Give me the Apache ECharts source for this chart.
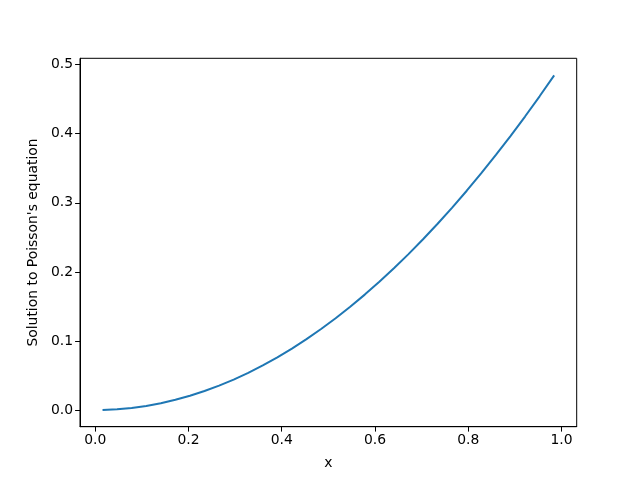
<!DOCTYPE html>
<html>
<head>
<meta charset="utf-8">
<script src="https://cdn.jsdelivr.net/npm/echarts@6/dist/echarts.min.js"></script>
<style>html,body{margin:0;padding:0;background:#fff;}#c{width:640px;height:480px;}</style>
</head>
<body>
<div id="c"></div>
<script>
const xValues = [0.015625, 0.046875, 0.078125, 0.109375, 0.140625, 0.171875, 0.203125, 0.234375,
  0.265625, 0.296875, 0.328125, 0.359375, 0.390625, 0.421875, 0.453125, 0.484375,
  0.515625, 0.546875, 0.578125, 0.609375, 0.640625, 0.671875, 0.703125, 0.734375,
  0.765625, 0.796875, 0.828125, 0.859375, 0.890625, 0.921875, 0.953125, 0.984375];
const yValues = [0.0001, 0.0011, 0.0031, 0.0060, 0.0099, 0.0148, 0.0206, 0.0275,
  0.0353, 0.0441, 0.0538, 0.0646, 0.0763, 0.0890, 0.1027, 0.1173,
  0.1329, 0.1495, 0.1671, 0.1857, 0.2052, 0.2257, 0.2472, 0.2697,
  0.2931, 0.3175, 0.3429, 0.3693, 0.3966, 0.4249, 0.4542, 0.4845];
const xTicks = [0.0, 0.2, 0.4, 0.6, 0.8, 1.0];
const yTicks = [0.0, 0.1, 0.2, 0.3, 0.4, 0.5];
const xName = 'x';
const yName = "Solution to Poisson's equation";

const font = 'DejaVu Sans';
const chart = echarts.init(document.getElementById('c'), null, {renderer: 'canvas'});
const pts = xValues.map((x, i) => [x, yValues[i]]);
chart.setOption({
  animation: false,
  backgroundColor: '#ffffff',
  grid: {left: 80, right: 63.3, top: 58.3, bottom: 53.3, show: true, borderColor: '#000', borderWidth: 1, backgroundColor: 'transparent'},
  xAxis: {
    type: 'value', min: -0.0327, max: 1.0327,
    name: xName, nameLocation: 'middle', nameGap: 29.5,
    nameTextStyle: {fontFamily: font, fontSize: 13.9, color: '#000'},
    axisLine: {show: true, onZero: false, lineStyle: {color: '#000', width: 1}},
    axisTick: {show: true, length: 4.9, lineStyle: {color: '#000', width: 1}, customValues: xTicks},
    axisLabel: {fontFamily: font, fontSize: 13.9, color: '#000', margin: 7, customValues: xTicks, formatter: v => v.toFixed(1)},
    splitLine: {show: false}
  },
  yAxis: {
    type: 'value', min: -0.0241, max: 0.5092,
    name: yName, nameLocation: 'middle', nameGap: 40,
    nameTextStyle: {fontFamily: font, fontSize: 13.9, color: '#000'},
    axisLine: {show: true, onZero: false, lineStyle: {color: '#000', width: 1}},
    axisTick: {show: true, length: 4.9, lineStyle: {color: '#000', width: 1}, customValues: yTicks},
    axisLabel: {fontFamily: font, fontSize: 13.9, color: '#000', margin: 7, customValues: yTicks, formatter: v => v.toFixed(1)},
    splitLine: {show: false}
  },
  series: [{
    type: 'line', data: pts, showSymbol: false, smooth: false,
    lineStyle: {color: '#1f77b4', width: 2}, itemStyle: {color: '#1f77b4'}
  }]
});
</script>
</body>
</html>
